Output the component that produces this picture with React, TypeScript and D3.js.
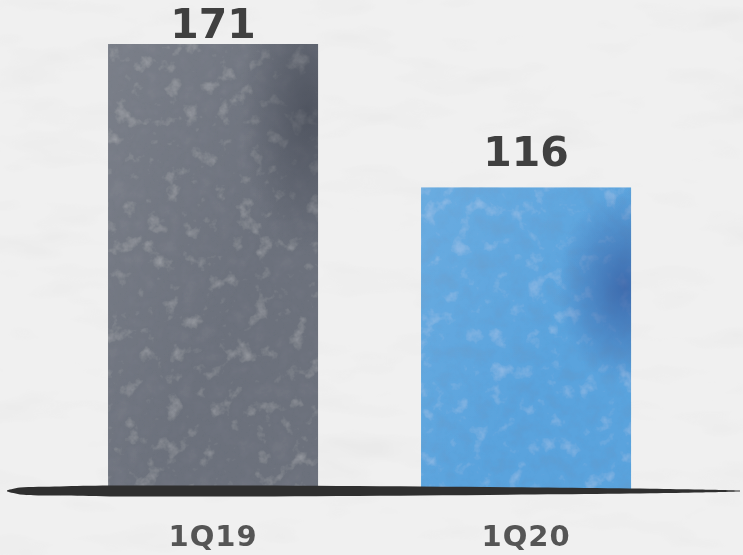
import React from "react";
import * as d3 from "d3";

const categories = ["1Q19", "1Q20"];
const values = [171, 116];
const barColors = ["#6c717c", "#5aa3dd"];
const shadeColors = ["#3c414d", "#34599e"];
// dark-speckle tints (r, g, b in 0..1) for each bar's texture
const speckleTints = [
  [0.2, 0.21, 0.25],
  [0.12, 0.3, 0.55],
];

const W = 743;
const H = 555;
const baseY = 490;

export default function App() {
  const x = d3
    .scaleBand<string>()
    .domain(categories)
    .range([56.4, 682.7])
    .paddingInner(103 / 313)
    .paddingOuter(0.165);
  const y = d3.scaleLinear().domain([0, 171]).range([baseY, 44]);

  // brush-stroke axis line: thickness tapers towards both ends
  const strokeProfile: [number, number][] = [
    [7, 0.6], [20, 3.4], [60, 4.6], [110, 5.4], [250, 5.4], [420, 4.4],
    [560, 3.2], [650, 2.2], [700, 1.4], [740, 0.4],
  ];
  const brush = d3
    .area<[number, number]>()
    .x((d) => d[0])
    .y0((d) => baseY + 1 - d[1])
    .y1((d) => baseY + 1 + d[1])
    .curve(d3.curveCatmullRom);

  const labelY = (v: number) => Math.max(y(v) - 21, 38);

  return (
    <svg
      width={W}
      height={H}
      style={{ position: "fixed", left: 0, top: 0, display: "block" }}
    >
      <defs>
        <filter id="paper" x="0" y="0" width="100%" height="100%">
          <feTurbulence type="fractalNoise" baseFrequency="0.01 0.03" numOctaves="3" seed="7" result="n" />
          <feColorMatrix in="n" type="matrix"
            values="0 0 0 0 0.6  0 0 0 0 0.6  0 0 0 0 0.6  0.5 0 0 0 -0.27" result="spots" />
          <feComposite in="spots" in2="SourceGraphic" operator="in" result="clip" />
          <feMerge>
            <feMergeNode in="SourceGraphic" />
            <feMergeNode in="clip" />
          </feMerge>
        </filter>
        {categories.map((c, i) => {
          const [r, g, b] = speckleTints[i];
          return (
            <filter key={c} id={`mottle-${i}`} x="0" y="0" width="100%" height="100%">
              <feTurbulence type="fractalNoise" baseFrequency="0.055" numOctaves="4" seed={i * 5 + 2} result="n" />
              <feColorMatrix in="n" type="matrix"
                values={`0 0 0 0 ${r}  0 0 0 0 ${g}  0 0 0 0 ${b}  -1.1 0 0 0 0.55`} result="dark" />
              <feColorMatrix in="n" type="matrix"
                values="0 0 0 0 1  0 0 0 0 1  0 0 0 0 1  0.5 0 0 0 -0.29" result="light" />
              <feComposite in="dark" in2="SourceGraphic" operator="in" result="darkIn" />
              <feComposite in="light" in2="SourceGraphic" operator="in" result="lightIn" />
              <feMerge>
                <feMergeNode in="SourceGraphic" />
                <feMergeNode in="darkIn" />
                <feMergeNode in="lightIn" />
              </feMerge>
            </filter>
          );
        })}
        <radialGradient id="shade-0" cx="0.95" cy="0.15" r="0.32">
          <stop offset="0" stopColor={shadeColors[0]} stopOpacity="0.6" />
          <stop offset="1" stopColor={shadeColors[0]} stopOpacity="0" />
        </radialGradient>
        <radialGradient id="shade-1" cx="0.97" cy="0.33" r="0.32">
          <stop offset="0" stopColor={shadeColors[1]} stopOpacity="0.75" />
          <stop offset="1" stopColor={shadeColors[1]} stopOpacity="0" />
        </radialGradient>
        <linearGradient id="sheen" x1="0" y1="0" x2="1" y2="1">
          <stop offset="0" stopColor="#ffffff" stopOpacity="0.1" />
          <stop offset="0.6" stopColor="#ffffff" stopOpacity="0" />
        </linearGradient>
      </defs>

      <rect x={0} y={0} width={W} height={H} fill="#f0f0f0" filter="url(#paper)" />

      {categories.map((c, i) => {
        const bx = x(c) ?? 0;
        const bw = x.bandwidth();
        const top = y(values[i]);
        const h = baseY - top;
        return (
          <g key={c}>
            <rect x={bx} y={top} width={bw} height={h} fill={barColors[i]} filter={`url(#mottle-${i})`} />
            <rect x={bx} y={top} width={bw} height={h} fill="url(#sheen)" />
            <rect x={bx} y={top} width={bw} height={h} fill={`url(#shade-${i})`} />
            <text
              x={bx + bw / 2}
              y={labelY(values[i])}
              textAnchor="middle"
              fontFamily="DejaVu Sans"
              fontWeight="bold"
              fontSize={41}
              fill="#404040"
            >
              {values[i]}
            </text>
            <text
              x={bx + bw / 2}
              y={545.5}
              textAnchor="middle"
              fontFamily="DejaVu Sans"
              fontWeight="bold"
              fontSize={29}
              letterSpacing={1}
              fill="#555555"
            >
              {c}
            </text>
          </g>
        );
      })}

      <path d={brush(strokeProfile) ?? ""} fill="#2f2f2f" />
    </svg>
  );
}
